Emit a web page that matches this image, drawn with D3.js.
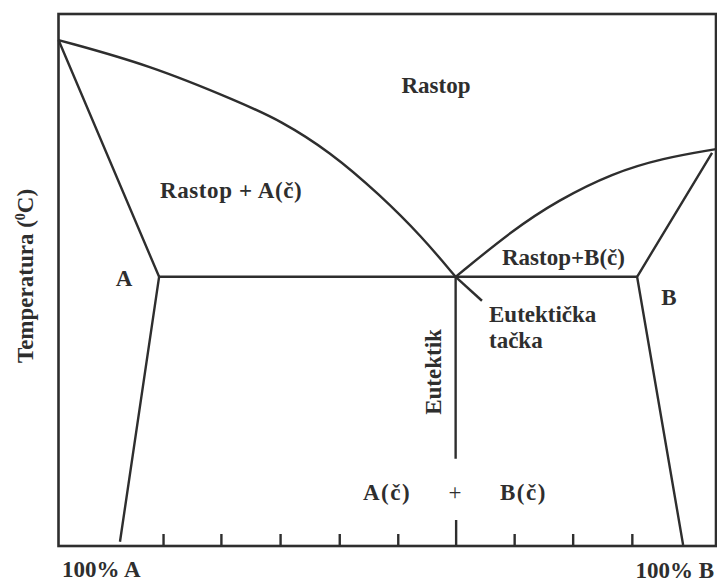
<!DOCTYPE html>
<html>
<head>
<meta charset="utf-8">
<script src="https://cdn.jsdelivr.net/npm/d3@7/dist/d3.min.js"></script>
<style>
  html, body { margin: 0; padding: 0; background: #fff; }
  svg { display: block; }
  text { font-family: "Liberation Serif", "Times New Roman", serif; font-weight: bold; fill: #2e2e2e; }
</style>
</head>
<body>
<script>
// Binary eutectic phase diagram A–B (composition % B on x, temperature on y)

// Liquidus from pure A down to the eutectic point [composition, temperature]
const liquidusA = [[0, 95.1], [13.9, 90.4], [27.6, 83.4], [33.7, 80.0], [41.3, 74.1], [48.9, 66.0], [55.3, 58.1], [60.4, 50.6]];
// Liquidus from the eutectic point up to pure B
const liquidusB = [[60.4, 50.6], [69.1, 59.4], [76.0, 65.0], [84.3, 70.1], [91.9, 72.9], [100, 74.6]];
// Solidus/solvus boundaries of the A-rich and B-rich solid solutions
const solvusA = [[0, 95.1], [15.3, 50.6], [9.35, 0.8]];
const solvusB = [[99.4, 73.9], [88.0, 50.6], [95.0, 0.2]];
// Eutectic isotherm, eutectic vertical and the pointer to the eutectic point
const eutecticLine = [[15.3, 50.6], [88.0, 50.6]];
const eutecticVertical = [[60.4, 50.6], [60.4, 16.4]];
const eutecticPointer = [[60.4, 50.6], [64.4, 46.1]];
// Composition ticks along the bottom axis
const tickValues = [15.9, 24.7, 33.7, 42.7, 51.6, 60.4, 69.3, 78.2, 87.2];
const eutecticTick = 60.4;

const W = 717, H = 585;
const frame = { left: 58.5, right: 716, top: 14, bottom: 546 };
const ink = "#2e2e2e";

const svg = d3.select("body").append("svg").attr("width", W).attr("height", H);

const x = d3.scaleLinear().domain([0, 100]).range([frame.left, frame.right]);
const y = d3.scaleLinear().domain([0, 100]).range([frame.bottom, frame.top]);

// Plot frame
svg.append("rect")
  .attr("x", frame.left).attr("y", frame.top)
  .attr("width", frame.right - frame.left).attr("height", frame.bottom - frame.top)
  .attr("fill", "none").attr("stroke", ink).attr("stroke-width", 2.6);

// Bottom axis with inward ticks
const axis = svg.append("g")
  .attr("transform", `translate(0,${frame.bottom})`)
  .call(d3.axisBottom(x).tickValues(tickValues).tickSize(-12).tickSizeOuter(0).tickFormat(""));
axis.select(".domain").remove();
axis.selectAll(".tick line").attr("stroke", ink).attr("stroke-width", 2.4);
axis.selectAll(".tick").filter(d => d === eutecticTick).select("line").attr("y2", -26);

const smooth = d3.line().x(d => x(d[0])).y(d => y(d[1])).curve(d3.curveBasis);
const straight = d3.line().x(d => x(d[0])).y(d => y(d[1]));

const lines = svg.append("g").attr("fill", "none").attr("stroke", ink)
  .attr("stroke-width", 2.4).attr("stroke-linejoin", "round");
lines.append("path").attr("d", smooth(liquidusA));
lines.append("path").attr("d", smooth(liquidusB));
lines.append("path").attr("d", straight(solvusA));
lines.append("path").attr("d", straight(solvusB));
lines.append("path").attr("d", straight(eutecticLine));
lines.append("path").attr("d", straight(eutecticVertical));
lines.append("path").attr("d", straight(eutecticPointer));

// Region and point labels
const fs = 23;
function label(txt, px, py, anchor, opts = {}) {
  const t = svg.append("text").attr("x", px).attr("y", py)
    .attr("text-anchor", anchor || "start").attr("font-size", opts.size || fs)
    .text(txt);
  if (opts.weight) t.style("font-weight", opts.weight);
  if (opts.ls) t.attr("letter-spacing", opts.ls);
  return t;
}
label("Rastop", 436, 93, "middle");
label("Rastop + A(č)", 160, 198, "start", { ls: 0.6 });
label("A", 124, 286, "middle");
label("Rastop+B(č)", 502, 265, "start");
label("B", 669, 305, "middle");
label("Eutektička", 489, 322, "start");
label("tačka", 489, 348, "start");
label("A(č)", 363, 500, "start", { ls: 1.5 });
label("+", 455, 500, "middle", { weight: "normal" });
label("B(č)", 500, 500, "start", { ls: 1.5 });
label("100% A", 62, 577, "start");
label("100% B", 714, 578, "end");

// Vertical label along the eutectic line
svg.append("text")
  .attr("transform", "translate(441,372) rotate(-90)")
  .attr("text-anchor", "middle").attr("font-size", fs)
  .text("Eutektik");

// Temperature axis title with superscript degree mark
const yt = svg.append("text")
  .attr("transform", "translate(33,276) rotate(-90)")
  .attr("text-anchor", "middle").attr("font-size", fs);
yt.append("tspan").text("Temperatura (");
yt.append("tspan").attr("font-size", 14).attr("dy", -8).text("0");
yt.append("tspan").attr("dy", 8).text("C)");
</script>
</body>
</html>
